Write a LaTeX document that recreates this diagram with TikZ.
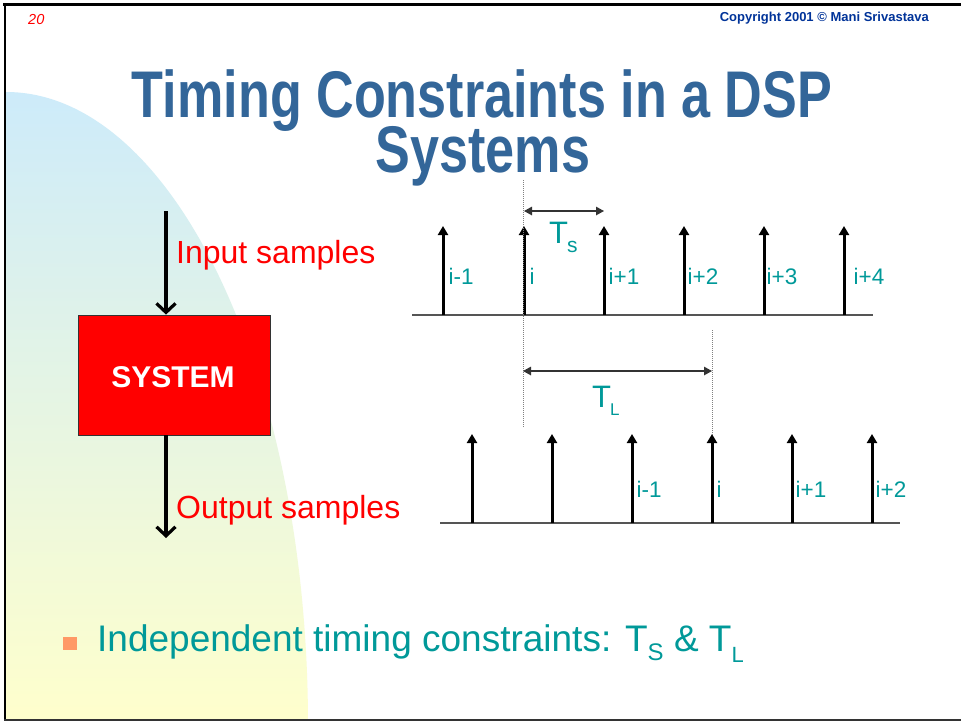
\documentclass[tikz,border=0pt]{standalone}
\usepackage{fontspec}
\setmainfont{Liberation Sans}
\newfontfamily\titlefont[FakeStretch=0.79]{Liberation Sans}
\usetikzlibrary{arrows.meta}

\definecolor{titleblue}{RGB}{51,102,153}
\definecolor{copyblue}{RGB}{0,51,153}
\definecolor{labelteal}{RGB}{0,153,153}
\definecolor{bgblue}{RGB}{205,235,250}
\definecolor{bgyellow}{RGB}{255,255,204}
\definecolor{bulletorange}{RGB}{255,153,102}
\definecolor{axisgray}{RGB}{85,85,85}

% lowered, smaller text for subscripts set in running text
\newcommand\dropsub[3]{\raisebox{-#1}{\fontsize{#2}{#2}\selectfont #3}}

\begin{document}
\begin{tikzpicture}[x=1pt,y=-1pt,
  stem/.style={line width=3pt,-{Triangle[length=9pt 0 0,width=10pt 0 0]}},
  axisline/.style={line width=1.6pt,draw=axisgray},
  span/.style={line width=1.2pt,draw=black!80,
    {Triangle[length=8pt 0 0,width=8.5pt 0 0]}-{Triangle[length=8pt 0 0,width=8.5pt 0 0]}},
  guide/.style={line width=0.8pt,draw=gray,dash pattern=on 1pt off 1pt},
  bigarrow/.style={line width=3.2pt,-{Straight Barb[length=9pt 0 0,width=19pt 0 0]}},
  idx/.style={text=labelteal,font=\fontsize{22.5}{22.5}\selectfont,inner sep=0pt,anchor=base west},
  redlbl/.style={text=red,font=\fontsize{32}{32}\selectfont,inner sep=0pt,anchor=base west},
  tlabel/.style={text=labelteal,inner sep=0pt,anchor=base west},
  titletext/.style={inner sep=0pt,anchor=base,text=titleblue,font=\titlefont\bfseries\fontsize{66}{66}\selectfont}]

\useasboundingbox (0,0) rectangle (961,721);
\fill[white] (0,0) rectangle (961,721);

% soft background panel on the left
\begin{scope}
  \clip (0,0) rectangle (961,720);
  \shade[top color=bgblue,bottom color=bgyellow]
    (6,725) -- (6,92) arc[start angle=-90,end angle=0,x radius=302,y radius=633] -- cycle;
\end{scope}

% header
\node[inner sep=0pt,anchor=base west,text=red,font=\fontsize{14.5}{14.5}\selectfont\itshape] (pageno) at (28,24) {20};
\node[inner sep=0pt,anchor=base east,text=copyblue,font=\fontsize{13}{13}\selectfont\bfseries] (copy) at (929,21) {Copyright 2001 © Mani Srivastava};

% title, set tight in two lines
\node[titletext,text depth=0pt] (title1) at (482,117) {Timing Constraints in a DSP};
\node[titletext] (title2) at (483,172) {Systems};

% system block with its input and output
\node[draw=black!80,line width=0.8pt,fill=red,minimum width=192pt,minimum height=120pt,inner sep=0pt] (sys) at (174,375) {};
\node[inner sep=0pt,anchor=base,text=white,font=\fontsize{30}{30}\selectfont\bfseries] (syslbl) at (173,387) {SYSTEM};
\coordinate (inTop) at (166,211);
\coordinate (outEnd) at (166,538);
\draw[bigarrow] (inTop) -- (sys.north -| inTop);
\draw[bigarrow] (sys.south -| outEnd) -- (outEnd);
\node[redlbl] (inlbl) at (176,263) {Input samples};
\node[redlbl] (outlbl) at (176,518) {Output samples};

% input sample train
\coordinate (axA) at (412,315);
\coordinate (axB) at (873,315);
\draw[axisline] (axA) -- (axB);
\foreach \x [count=\k] in {443,524,604,684,764,844} {
  \coordinate (u\k) at (\x,315);
  \coordinate (ut\k) at (\x,226);
  \draw[stem] (u\k) -- (ut\k);
}
\foreach \x/\t [count=\k] in {448.5/i-1,529.5/i,608.5/i+1,687.5/i+2,766.5/i+3,853.5/i+4}
  \node[idx] (ul\k) at (\x,284) {\t};

% output sample train
\coordinate (bxA) at (440,523);
\coordinate (bxB) at (900,523);
\draw[axisline] (bxA) -- (bxB);
\foreach \x [count=\k] in {472,552,632,712,792,872} {
  \coordinate (d\k) at (\x,523);
  \coordinate (dt\k) at (\x,434);
  \draw[stem] (d\k) -- (dt\k);
}
\foreach \x/\t [count=\k] in {636.5/i-1,716.5/i,795.5/i+1,875.5/i+2}
  \node[idx] (dl\k) at (\x,497) {\t};

% guide lines and intervals
\coordinate (g1a) at (523,180);
\coordinate (g1b) at (523,428);
\coordinate (g2a) at (712,330);
\coordinate (g2b) at (712,435);
\draw[guide] (g1a) -- (g1b);
\draw[guide] (g2a) -- (g2b);
\coordinate (tsA) at (524,211);
\coordinate (tsB) at (604,211);
\draw[span] (tsA) -- (tsB);
\node[tlabel,font=\fontsize{31}{31}\selectfont] (tslbl) at (549,243) {T\kern-1pt\dropsub{9.5pt}{21}{s}};
\coordinate (tlA) at (523,371);
\coordinate (tlB) at (712,371);
\draw[span] (tlA) -- (tlB);
\node[tlabel,font=\fontsize{31}{31}\selectfont] (tllbl) at (592,407) {T\kern-1pt\dropsub{8pt}{17}{L}};

% bullet point
\fill[bulletorange] (63,637) rectangle (77,650);
\node[tlabel,font=\fontsize{37}{37}\selectfont] (bullet) at (97,651.5)
  {Independent timing constraints: T\dropsub{9pt}{24}{S} \& T\dropsub{11pt}{22}{L}};

% slide frame
\draw[line width=3.5pt,black] (3,4.5) -- (961,4.5);
\draw[line width=2.5pt,black] (5,3) -- (5,721);
\draw[line width=2pt,black!80] (4,720) -- (961,720);
\end{tikzpicture}
\end{document}
